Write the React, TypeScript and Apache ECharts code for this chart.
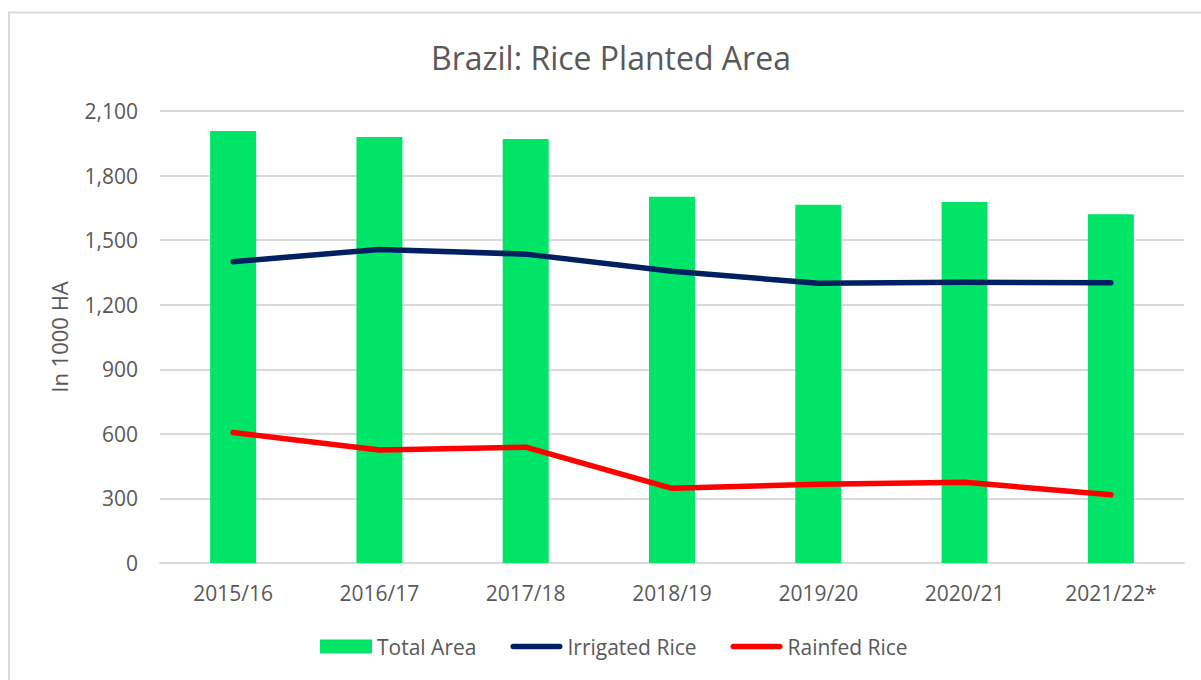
import React, { useEffect, useRef } from "react";
import * as echarts from "echarts";

const categories = ["2015/16", "2016/17", "2017/18", "2018/19", "2019/20", "2020/21", "2021/22*"];
const totalArea = [2007, 1979, 1970, 1702, 1665, 1677, 1620];
const irrigatedRice = [1400, 1457, 1435, 1355, 1300, 1304, 1302];
const rainfedRice = [606, 525, 538, 347, 366, 375, 317];
const yTicks = { min: 0, max: 2100, interval: 300 };

const FONT = "'Open Sans', sans-serif";
const TEXT = "#595959";
const LINE_ICON = "path://M3,0 H53 A3,3 0 0 1 53,6 H3 A3,3 0 0 1 3,0 Z";

export default function App() {
  const ref = useRef<HTMLDivElement>(null);
  useEffect(() => {
    if (!ref.current) return;
    const chart = echarts.init(ref.current, undefined, { renderer: "svg" });
    chart.setOption({
      animation: false,
      backgroundColor: "#ffffff",
      textStyle: { fontFamily: FONT },
      title: {
        text: "Brazil: Rice Planted Area",
        left: 426,
        top: 36,
        textStyle: { fontFamily: FONT, fontSize: 32, fontWeight: "normal", color: TEXT },
      },
      graphic: [
        { type: "line", shape: { x1: 8, y1: 12.5, x2: 1201, y2: 12.5 }, style: { stroke: "#d9d9d9", lineWidth: 2 } },
        { type: "line", shape: { x1: 9, y1: 12, x2: 9, y2: 680 }, style: { stroke: "#d9d9d9", lineWidth: 2 } },
      ],
      grid: { left: 160, right: 17, top: 111, bottom: 117, containLabel: false },
      legend: {
        bottom: 18,
        left: 315,
        itemWidth: 52,
        itemHeight: 14,
        itemGap: 34,
        textStyle: { fontFamily: FONT, fontSize: 21, color: TEXT },
        data: [
          { name: "Total Area", icon: "rect" },
          { name: "Irrigated Rice", icon: LINE_ICON },
          { name: "Rainfed Rice", icon: LINE_ICON },
        ],
      },
      xAxis: {
        type: "category",
        data: categories,
        axisLine: { lineStyle: { color: "#d9d9d9", width: 2 } },
        axisTick: { show: false },
        axisLabel: { fontFamily: FONT, fontSize: 21, color: TEXT, margin: 19 },
      },
      yAxis: {
        type: "value",
        min: yTicks.min,
        max: yTicks.max,
        interval: yTicks.interval,
        name: "In 1000 HA",
        nameLocation: "middle",
        nameGap: 90,
        nameTextStyle: { fontFamily: FONT, fontSize: 22, color: TEXT },
        axisLine: { show: false },
        axisTick: { show: false },
        splitLine: { lineStyle: { color: "#d9d9d9", width: 2 } },
        axisLabel: {
          fontFamily: FONT,
          fontSize: 21,
          color: TEXT,
          margin: 22,
          formatter: (v: number) => v.toLocaleString("en-US"),
        },
      },
      series: [
        {
          name: "Total Area",
          type: "bar",
          data: totalArea,
          barWidth: 46,
          itemStyle: { color: "#00e567" },
        },
        {
          name: "Irrigated Rice",
          type: "line",
          data: irrigatedRice,
          showSymbol: false,
          symbol: "none",
          lineStyle: { color: "#002060", width: 5.5, cap: "round", join: "round" },
          itemStyle: { color: "#002060" },
        },
        {
          name: "Rainfed Rice",
          type: "line",
          data: rainfedRice,
          showSymbol: false,
          symbol: "none",
          lineStyle: { color: "#ff0000", width: 5.5, cap: "round", join: "round" },
          itemStyle: { color: "#ff0000" },
        },
      ],
    });
    return () => chart.dispose();
  }, []);
  return (
    <div
      ref={ref}
      style={{ position: "fixed", left: 0, top: 0, width: 1201, height: 680 }}
    />
  );
}
